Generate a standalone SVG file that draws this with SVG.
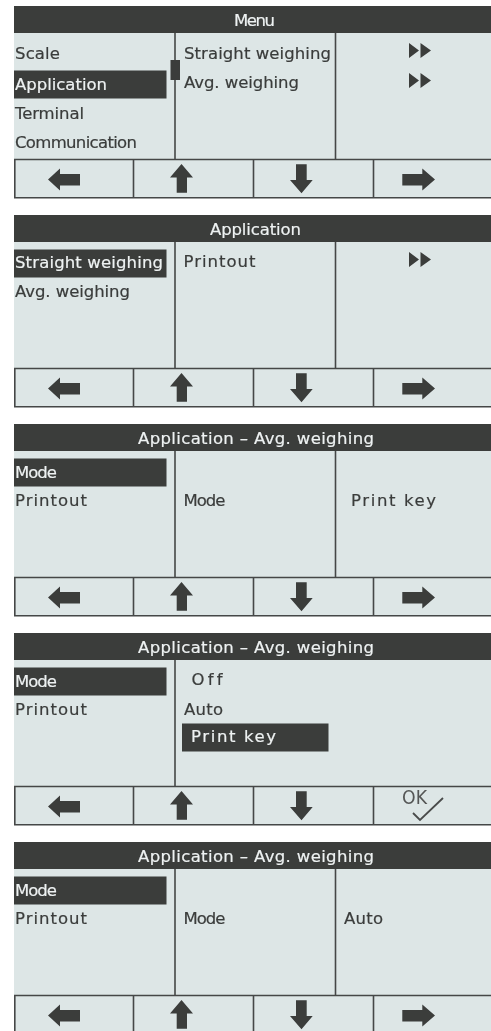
<svg xmlns="http://www.w3.org/2000/svg" width="491" height="1031" viewBox="0 0 491 1031">
<style>
.bg{fill:#dde6e6}
.dk{fill:#3a3c3b}
.ln{stroke:#454746;stroke-width:1.6;fill:none}
text{font-family:"DejaVu Sans",sans-serif;font-size:16.5px;font-variant-ligatures:none;fill:#3a3c3b;stroke:#3a3c3b;stroke-width:.2}
.w{fill:#eef2f2;stroke:#eef2f2}
.ok{font-size:19px;fill:#555756;stroke:none}
</style>
<defs>
<filter id="soft" x="0" y="0" width="100%" height="100%"><feGaussianBlur stdDeviation="0.4"/></filter>
<g id="frame">
<rect class="bg" x="14" y="0" width="477" height="192"/>
<rect class="dk" x="14" y="0" width="477" height="27"/>
<path class="ln" d="M14 153.500H491M14.800 153.500V192M14 191.700H491M133.500 153.500V192M253.500 153.500V192M373.500 153.500V192"/>
<path class="ln" d="M175 27V153.500"/>
</g>
<path id="col3" class="ln" d="M335.500 27V153.500"/>
<path id="left" class="dk" d="M48 173.500L60 162.500V168H80V179.500H60V184.500Z"/>
<path id="up" class="dk" d="M181.500 158L193 171.500H187V186.700H176.700V171.500H170Z"/>
<path id="down" class="dk" d="M301.500 187.300L290 174H296V158.300H306.700V174H312.700Z"/>
<path id="right" class="dk" d="M435 173.500L422.300 162.500V168H402.300V179.500H422.300V184.500Z"/>
<path id="ff" class="dk" d="M409 37L419 44.500L409 52ZM420.500 37L431 44.500L420.500 52Z"/>
<rect id="hl" class="dk" x="14" y="40.500" width="152.500" height="28"/>
<path id="checkmark" fill="none" stroke="#4a4c4b" stroke-width="1.800" d="M413 180L420 187L443 165"/>
</defs>
<rect width="491" height="1031" fill="#fff"/>
<g filter="url(#soft)">
<g id="screen-menu" transform="translate(0 6)">
<use href="#frame"/><use href="#col3"/>
<use href="#left"/><use href="#up"/><use href="#down"/><use href="#right"/>
<text class="w" x="234" y="20" textLength="41">Menu</text>
<rect class="dk" x="14" y="64.500" width="152.500" height="28"/>
<rect class="dk" x="170.500" y="54" width="9.500" height="20"/>
<text x="15" y="52.500" textLength="45">Scale</text>
<text class="w" x="15" y="84" textLength="92">Application</text>
<text x="15" y="112.500" textLength="69">Terminal</text>
<text x="15" y="142" textLength="122">Communication</text>
<text x="184" y="53" textLength="147">Straight weighing</text>
<text x="184" y="82" textLength="115">Avg. weighing</text>
<use href="#ff"/><use href="#ff" y="30"/>
</g>
<g id="screen-application" transform="translate(0 215)">
<use href="#frame"/><use href="#col3"/>
<use href="#left"/><use href="#up"/><use href="#down"/><use href="#right"/>
<text class="w" x="210" y="20" textLength="91">Application</text>
<use href="#hl" y="-6"/>
<text class="w" x="15" y="53" textLength="148">Straight weighing</text>
<text x="15" y="82" textLength="115">Avg. weighing</text>
<text x="183.500" y="52" textLength="72">Printout</text>
<use href="#ff"/>
</g>
<g id="screen-avg-print-key" transform="translate(0 424)">
<use href="#frame"/><use href="#col3"/>
<use href="#left"/><use href="#up"/><use href="#down"/><use href="#right"/>
<text class="w" x="138" y="20" textLength="236">Application – Avg. weighing</text>
<use href="#hl" y="-6"/>
<text class="w" x="15" y="54" textLength="42">Mode</text>
<text x="15" y="82" textLength="72">Printout</text>
<text x="183.500" y="82" textLength="42">Mode</text>
<text x="351" y="82" textLength="85">Print key</text>
</g>
<g id="screen-avg-select" transform="translate(0 633)">
<use href="#frame"/>
<use href="#left"/><use href="#up"/><use href="#down"/>
<text class="w" x="138" y="20" textLength="236">Application – Avg. weighing</text>
<use href="#hl" y="-6"/>
<text class="w" x="15" y="54" textLength="42">Mode</text>
<text x="15" y="82" textLength="72">Printout</text>
<text x="191.500" y="52" textLength="31">Off</text>
<text x="184" y="82" textLength="39">Auto</text>
<rect class="dk" x="182" y="90.500" width="146.500" height="28"/>
<text class="w" x="191" y="109" textLength="85">Print key</text>
<text class="ok" x="402" y="171" textLength="25" lengthAdjust="spacingAndGlyphs">OK</text>
<use href="#checkmark"/>
</g>
<g id="screen-avg-auto" transform="translate(0 842)">
<use href="#frame"/><use href="#col3"/>
<use href="#left"/><use href="#up"/><use href="#down"/><use href="#right"/>
<text class="w" x="138" y="20" textLength="236">Application – Avg. weighing</text>
<use href="#hl" y="-6"/>
<text class="w" x="15" y="54" textLength="42">Mode</text>
<text x="15" y="82" textLength="72">Printout</text>
<text x="183.500" y="82" textLength="42">Mode</text>
<text x="344" y="82" textLength="39">Auto</text>
</g>
</g>
</svg>
